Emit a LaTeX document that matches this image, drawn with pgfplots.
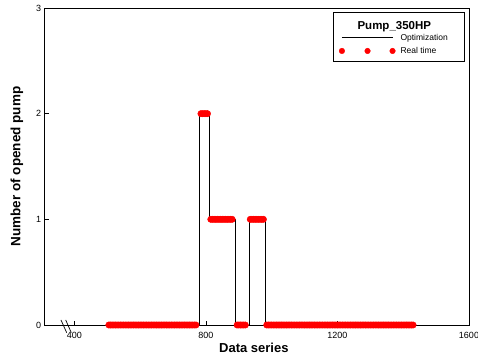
\documentclass[border=0pt]{standalone}
\usepackage{pgfplots}
\pgfplotsset{compat=1.18}
\usepackage{fontspec}
\setmainfont{Liberation Sans}
\begin{document}
\begin{tikzpicture}
\begin{axis}[
  name=ax,
  scale only axis, width=424.3pt, height=317pt,
  xmin=310, xmax=1600, ymin=0, ymax=3,
  xtick={400,800,1200,1600}, ytick={0,1,2,3},
  minor tick num=0,
  tick align=inside, xtick pos=bottom, ytick pos=left,
  major tick length=4pt,
  axis line style={line width=0.8pt},
  every tick/.style={black, line width=0.7pt},
  /pgf/number format/assume math mode=true,
  /pgf/number format/1000 sep={},
  ticklabel style={font=\fontsize{9}{10}\selectfont},
  xticklabel style={yshift=-4pt},
  xlabel={Data series},
  ylabel={Number of opened pump},
  xlabel style={font=\fontsize{13}{15}\selectfont\bfseries, at={(axis description cs:0.493,-0.0726)}, anchor=center},
  ylabel style={font=\fontsize{13.5}{15}\selectfont\bfseries, at={(axis description cs:-0.0653,0.5)}, anchor=center},
  clip=false,
  legend style={at={(rel axis cs:0.693,0.925)}, anchor=north west, draw=none, fill=none, inner sep=0pt,
    font=\fontsize{8.5}{10}\selectfont, row sep=1.5pt},
  legend cell align=left,
]
\addplot[const plot, black, line width=0.7pt,
  legend image code/.code={\draw[black,line width=0.7pt] (0pt,0pt) -- (50.6pt,0pt);}]
  coordinates {(500,0) (780,2) (811,1) (890,0) (931,1) (981,0) (1440,0)};
\addlegendentry{\hspace{3pt}Optimization}
\addplot[only marks, mark=*, mark size=3.2pt, color=red, fill=red,
  legend image code/.code={\fill[red] (0pt,0pt) circle (2.8pt); \fill[red] (25.6pt,0pt) circle (2.8pt); \fill[red] (50.6pt,0pt) circle (2.8pt);}]
  coordinates {
  (505,0) (510,0) (515,0) (520,0) (525,0) (530,0) (535,0) (540,0) (545,0) (550,0)
  (555,0) (560,0) (565,0) (570,0) (575,0) (580,0) (585,0) (590,0) (595,0) (600,0)
  (605,0) (610,0) (615,0) (620,0) (625,0) (630,0) (635,0) (640,0) (645,0) (650,0)
  (655,0) (660,0) (665,0) (670,0) (675,0) (680,0) (685,0) (690,0) (695,0) (700,0)
  (705,0) (710,0) (715,0) (720,0) (725,0) (730,0) (735,0) (740,0) (745,0) (750,0)
  (755,0) (760,0) (765,0) (770,0)
  (785,2) (790,2) (795,2) (800,2) (805,2)
  (815,1) (820,1) (825,1) (830,1) (835,1) (840,1) (845,1) (850,1) (855,1) (860,1)
  (865,1) (870,1) (875,1) (880,1)
  (895,0) (900,0) (905,0) (910,0) (915,0) (920,0)
  (935,1) (940,1) (945,1) (950,1) (955,1) (960,1) (965,1) (970,1) (975,1)
  (985,0) (990,0) (995,0) (1000,0) (1005,0) (1010,0) (1015,0) (1020,0) (1025,0) (1030,0)
  (1035,0) (1040,0) (1045,0) (1050,0) (1055,0) (1060,0) (1065,0) (1070,0) (1075,0) (1080,0)
  (1085,0) (1090,0) (1095,0) (1100,0) (1105,0) (1110,0) (1115,0) (1120,0) (1125,0) (1130,0)
  (1135,0) (1140,0) (1145,0) (1150,0) (1155,0) (1160,0) (1165,0) (1170,0) (1175,0) (1180,0)
  (1185,0) (1190,0) (1195,0) (1200,0) (1205,0) (1210,0) (1215,0) (1220,0) (1225,0) (1230,0)
  (1235,0) (1240,0) (1245,0) (1250,0) (1255,0) (1260,0) (1265,0) (1270,0) (1275,0) (1280,0)
  (1285,0) (1290,0) (1295,0) (1300,0) (1305,0) (1310,0) (1315,0) (1320,0) (1325,0) (1330,0)
  (1335,0) (1340,0) (1345,0) (1350,0) (1355,0) (1360,0) (1365,0) (1370,0) (1375,0) (1380,0)
  (1385,0) (1390,0) (1395,0) (1400,0) (1405,0) (1410,0) (1415,0) (1420,0) (1425,0) (1430,0)
  };
\addlegendentry{\hspace{3pt}Real time}
\draw[line width=0.8pt] (rel axis cs:0.680,0.830) rectangle (rel axis cs:0.990,0.986);
\node[font=\fontsize{11.5}{13}\selectfont\bfseries] at (rel axis cs:0.824,0.940) {Pump\_350HP};
\draw[line width=0.7pt] (rel axis cs:0.0384,0.0158) -- (rel axis cs:0.0518,-0.0243);
\draw[line width=0.7pt] (rel axis cs:0.0495,0.0158) -- (rel axis cs:0.0627,-0.0243);
\end{axis}
\pgfresetboundingbox
\path[use as bounding box] ([shift={(-44.7pt,-35pt)}]ax.south west) rectangle ([shift={(9pt,8pt)}]ax.north east);
\end{tikzpicture}
\end{document}
